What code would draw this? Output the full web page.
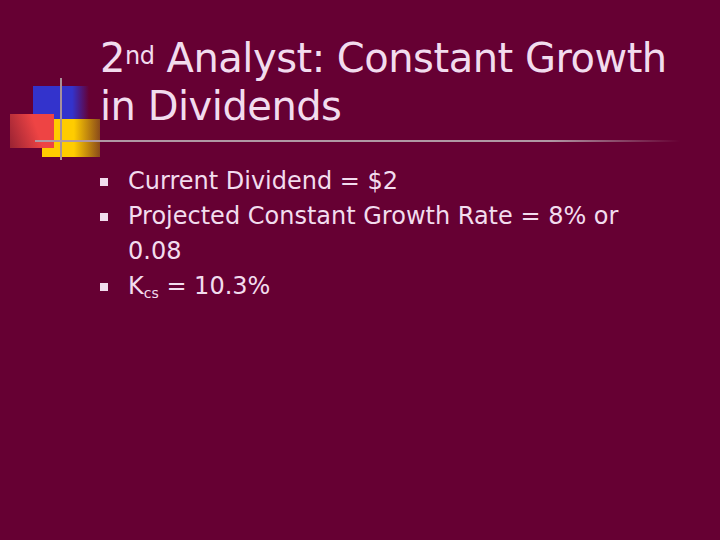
<!DOCTYPE html>
<html><head><meta charset="utf-8">
<script src="https://cdn.jsdelivr.net/npm/chart.js@4"></script>
<style>
html,body{margin:0;padding:0}
body{width:720px;height:540px;background:#660033;position:relative;overflow:hidden;font-family:"DejaVu Sans",Verdana,sans-serif;color:#f2dcee}
.b{position:absolute}
#title{left:100px;top:34px;font-size:40px;line-height:48px;letter-spacing:-0.5px}
#title sup{font-size:24px;vertical-align:top;position:relative;top:-2px}
ul{position:absolute;left:100px;top:164px;margin:0;padding:0;list-style:none;font-size:24px;line-height:35px}
li{position:relative;padding-left:28px}
li:before{content:"";position:absolute;left:0;top:14px;width:8px;height:8px;background:#f2dcee}
sub{font-size:14px;vertical-align:baseline;position:relative;top:4px}
</style></head><body>
<div class="b" style="left:33px;top:86px;width:56px;height:34px;background:linear-gradient(90deg,#3333cc 70%,#660033)"></div>
<div class="b" style="left:42px;top:119px;width:58px;height:38px;background:linear-gradient(90deg,#ffcc00 55%,#8a4a1a)"></div>
<div class="b" style="left:10px;top:114px;width:44px;height:34px;background:linear-gradient(70deg,#992233,#ee4444 60%)"></div>
<div class="b" style="left:60px;top:78px;width:2px;height:82px;background:#a89098"></div>
<div class="b" style="left:35px;top:140px;width:645px;height:2px;background:linear-gradient(90deg,#b098a4 80%,#660033)"></div>
<div id="title" class="b">2<sup>nd</sup> Analyst: Constant Growth<br>in Dividends</div>
<ul>
<li>Current Dividend = $2</li>
<li>Projected Constant Growth Rate = 8% or<br>0.08</li>
<li>K<sub>cs</sub> = 10.3%</li>
</ul>
</body></html>
